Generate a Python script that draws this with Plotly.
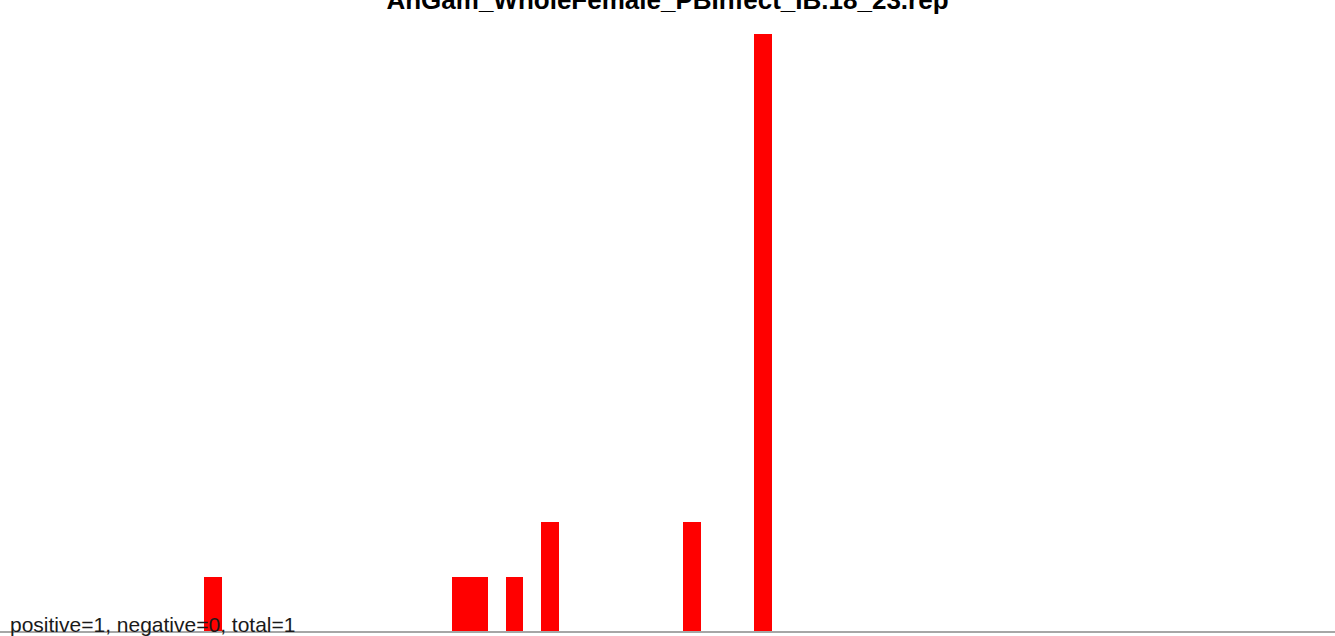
import plotly.graph_objects as go

title_text = "AnGam_WholeFemale_PBInfect_IB.18_23.rep"
bins = [12, 26, 27, 29, 31, 39, 43]
counts = [1, 1, 1, 1, 2, 2, 11]
summary = "positive=1, negative=0, total=1"

fig = go.Figure()
fig.add_trace(go.Bar(x=bins, y=counts, width=1, marker=dict(color="#ff0000", line=dict(width=0)),
                     hoverinfo="x+y"))

fig.update_layout(
    width=1335, height=636,
    margin=dict(l=0, r=0, t=34, b=5),
    paper_bgcolor="white", plot_bgcolor="white",
    showlegend=False,
    bargap=0,
    font=dict(family="Arial, Liberation Sans, sans-serif"),
    title=dict(text="<b>" + title_text + "</b>", x=0.5, xanchor="center",
               yref="container", y=1.0, yanchor="middle",
               font=dict(size=26, color="#000000", family="Arial, Liberation Sans, sans-serif")),
    xaxis=dict(range=[0, 75.25], showgrid=False, zeroline=False, showticklabels=False,
               ticks="", showline=True, linecolor="#a6a6a6", linewidth=2),
    yaxis=dict(range=[0, 11], showgrid=False, zeroline=False, showticklabels=False,
               ticks="", showline=False),
    annotations=[dict(text=summary, xref="paper", yref="paper", x=0, y=0,
                      xanchor="left", yanchor="bottom", xshift=8, yshift=-6.5, showarrow=False,
                      font=dict(size=21, color="#1a1a1a", family="Arial, Liberation Sans, sans-serif"))],
)

fig.write_html("out.html", config={"displayModeBar": False},
               post_script="document.body.style.margin='0';document.body.style.overflow='hidden';")
